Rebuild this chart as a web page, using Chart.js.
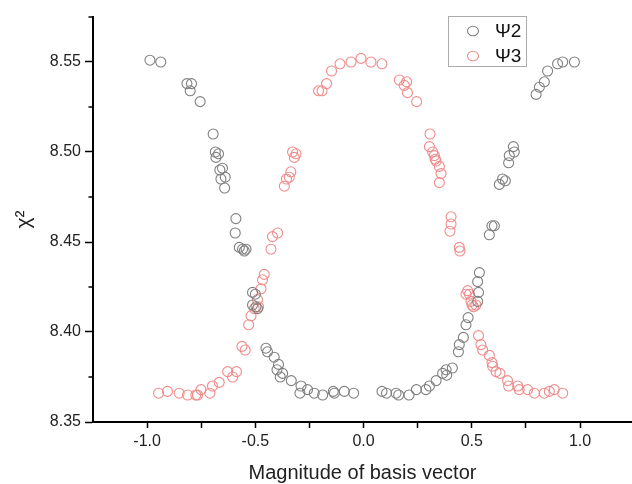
<!DOCTYPE html>
<html><head><meta charset="utf-8">
<script src="https://cdn.jsdelivr.net/npm/chart.js@4.4.1/dist/chart.umd.min.js"></script>
<style>html,body{margin:0;padding:0;background:#fff;overflow:hidden}#wrap{width:632px;height:484px;position:relative}</style>
</head><body><div id="wrap"><canvas id="c" width="632" height="484"></canvas></div>
<script>
// ---- data ----
const seriesLabels = ['Ψ2', 'Ψ3'];
const psi2X = [-0.987,-0.937,-0.816,-0.795,-0.801,-0.755,-0.695,-0.685,-0.670,-0.682,-0.652,-0.664,-0.639,-0.659,-0.642,-0.590,-0.593,-0.574,-0.559,-0.551,-0.543,-0.513,-0.500,-0.513,-0.497,-0.490,-0.451,-0.444,-0.413,-0.393,-0.400,-0.374,-0.385,-0.334,-0.289,-0.294,-0.259,-0.228,-0.189,-0.140,-0.135,-0.089,-0.046,0.085,0.106,0.150,0.162,0.210,0.244,0.288,0.304,0.335,0.365,0.381,0.384,0.410,0.438,0.442,0.461,0.473,0.483,0.527,0.531,0.527,0.535,0.581,0.593,0.604,0.627,0.642,0.655,0.670,0.673,0.696,0.692,0.797,0.812,0.835,0.850,0.896,0.920,0.974];
const psi2Y = [8.551,8.550,8.538,8.538,8.534,8.528,8.510,8.500,8.499,8.497,8.491,8.490,8.486,8.485,8.480,8.463,8.455,8.447,8.446,8.445,8.446,8.422,8.421,8.415,8.414,8.413,8.391,8.389,8.386,8.382,8.379,8.377,8.375,8.373,8.370,8.366,8.368,8.366,8.365,8.367,8.366,8.367,8.366,8.367,8.366,8.366,8.365,8.365,8.368,8.368,8.370,8.373,8.377,8.379,8.376,8.380,8.389,8.393,8.397,8.404,8.408,8.417,8.422,8.428,8.433,8.454,8.459,8.459,8.482,8.485,8.484,8.494,8.498,8.500,8.503,8.532,8.536,8.539,8.545,8.549,8.550,8.550];
const psi3X = [-0.947,-0.906,-0.852,-0.813,-0.775,-0.751,-0.767,-0.698,-0.710,-0.667,-0.628,-0.605,-0.587,-0.562,-0.547,-0.531,-0.520,-0.505,-0.485,-0.490,-0.474,-0.467,-0.459,-0.428,-0.421,-0.397,-0.366,-0.356,-0.343,-0.336,-0.328,-0.312,-0.320,-0.208,-0.192,-0.171,-0.148,-0.109,-0.058,-0.012,0.034,0.085,0.165,0.199,0.188,0.203,0.245,0.307,0.304,0.319,0.327,0.331,0.335,0.350,0.358,0.350,0.404,0.404,0.399,0.442,0.445,0.473,0.481,0.489,0.496,0.501,0.508,0.519,0.531,0.542,0.550,0.581,0.593,0.596,0.612,0.630,0.665,0.670,0.712,0.719,0.758,0.789,0.835,0.858,0.881,0.920];
const psi3Y = [8.366,8.367,8.366,8.365,8.365,8.368,8.365,8.370,8.366,8.372,8.378,8.375,8.378,8.392,8.390,8.404,8.409,8.413,8.414,8.418,8.424,8.429,8.432,8.446,8.453,8.455,8.481,8.485,8.486,8.489,8.500,8.499,8.497,8.534,8.534,8.538,8.545,8.549,8.550,8.552,8.550,8.549,8.540,8.539,8.537,8.533,8.528,8.510,8.503,8.500,8.498,8.496,8.495,8.492,8.488,8.483,8.464,8.460,8.456,8.447,8.445,8.421,8.423,8.421,8.417,8.415,8.414,8.415,8.398,8.393,8.390,8.387,8.383,8.381,8.378,8.377,8.373,8.370,8.370,8.368,8.368,8.366,8.366,8.367,8.368,8.366];
const xMajorTicks = [-1.0, -0.5, 0.0, 0.5, 1.0];
const xMinorTicks = [-0.75, -0.25, 0.25, 0.75];
const yMajorTicks = [8.35, 8.40, 8.45, 8.50, 8.55];
const yMinorTicks = [8.375, 8.425, 8.475, 8.525, 8.575];
const xTitle = 'Magnitude of basis vector';
const yTitle = 'χ²';

// ---- styles ----
const colors = ['#808080', '#f08c8c'];
const FONT = "'Liberation Sans', Arial, sans-serif";

function toPoints(xs, ys) { return xs.map((x, i) => ({x: x, y: ys[i]})); }

const minorYTicks = {
  id: 'minorYTicks',
  afterDraw(chart) {
    const ctx = chart.ctx, ys = chart.scales.y, a = chart.chartArea;
    ctx.save();
    ctx.strokeStyle = '#000'; ctx.lineWidth = 1.5;
    yMinorTicks.forEach(v => {
      const py = ys.getPixelForValue(v);
      ctx.beginPath(); ctx.moveTo(a.left - 4.5, py); ctx.lineTo(a.left, py); ctx.stroke();
    });
    ctx.restore();
  }
};

const boxLegend = {
  id: 'boxLegend',
  afterDraw(chart) {
    const ctx = chart.ctx;
    ctx.save();
    ctx.strokeStyle = '#ababab'; ctx.lineWidth = 1;
    ctx.strokeRect(448.5, 16.5, 78, 50);
    chart.data.datasets.forEach((ds, i) => {
      const cy = 31 + 25 * i;
      ctx.beginPath();
      ctx.ellipse(473, cy, 5.5, 4.8, 0, 0, Math.PI * 2);
      ctx.strokeStyle = ds.borderColor; ctx.lineWidth = 1.1; ctx.stroke();
      ctx.fillStyle = '#111';
      ctx.font = "19px " + FONT;
      ctx.textBaseline = 'middle'; ctx.textAlign = 'left';
      ctx.fillText(ds.label, 495, cy + 1);
    });
    ctx.restore();
  }
};

new Chart(document.getElementById('c'), {
  type: 'scatter',
  data: {
    datasets: [
      {label: seriesLabels[0], data: toPoints(psi2X, psi2Y), borderColor: colors[0], backgroundColor: 'rgba(0,0,0,0)', pointRadius: 5, pointBorderWidth: 1.1, pointHoverRadius: 5},
      {label: seriesLabels[1], data: toPoints(psi3X, psi3Y), borderColor: colors[1], backgroundColor: 'rgba(0,0,0,0)', pointRadius: 5, pointBorderWidth: 1.1, pointHoverRadius: 5}
    ]
  },
  options: {
    responsive: false,
    animation: false,
    events: [],
    layout: {autoPadding: false, padding: {top: 17, right: 0, bottom: 0, left: 0}},
    plugins: {legend: {display: false}, tooltip: {enabled: false}},
    scales: {
      x: {
        type: 'linear', min: -1.25, max: 1.24,
        afterBuildTicks: s => { s.ticks = xMajorTicks.concat(xMinorTicks).sort((a, b) => a - b).map(v => ({value: v})); },
        afterFit: s => { s.height = 62; s.paddingLeft = 0; s.paddingRight = 0; },
        ticks: {
          autoSkip: false, maxRotation: 0, padding: 4, color: '#222',
          font: {family: FONT, size: 16},
          callback: v => xMajorTicks.some(m => Math.abs(m - v) < 1e-9) ? Number(v).toFixed(1) : ''
        },
        grid: {drawOnChartArea: false, drawTicks: true, tickLength: 6, tickColor: '#000', tickWidth: 1.5},
        border: {display: true, color: '#000', width: 2},
        title: {display: true, text: xTitle, color: '#222', font: {family: FONT, size: 20, lineHeight: 1.1}, padding: {top: 0, bottom: 0}}
      },
      y: {
        type: 'linear', min: 8.35, max: 8.575,
        afterBuildTicks: s => { s.ticks = yMajorTicks.map(v => ({value: v})); },
        afterFit: s => { s.width = 93; s.paddingTop = 0; s.paddingBottom = 0; },
        ticks: {
          autoSkip: false, padding: 4, color: '#222',
          font: {family: FONT, size: 16},
          callback: v => Number(v).toFixed(2)
        },
        grid: {drawOnChartArea: false, drawTicks: true, tickLength: 8, tickColor: '#000', tickWidth: 1.5},
        border: {display: true, color: '#000', width: 2},
        title: {display: true, text: yTitle, color: '#222', font: {family: FONT, size: 21, lineHeight: 1.1}, padding: {top: 13, bottom: 0}}
      }
    }
  },
  plugins: [minorYTicks, boxLegend]
});
</script>
</body></html>
